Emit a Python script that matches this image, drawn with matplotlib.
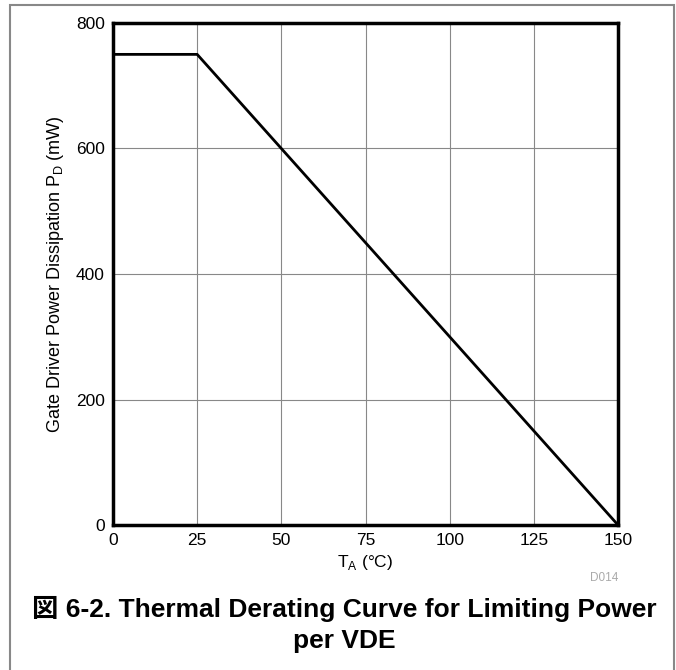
import matplotlib
matplotlib.use("Agg")
import matplotlib.pyplot as plt
from matplotlib.patches import Rectangle

# derating curve points
temp_c = [0, 25, 150]
power_mw = [750, 750, 0]
x_ticks = [0, 25, 50, 75, 100, 125, 150]
y_ticks = [0, 200, 400, 600, 800]

plt.rcParams['font.family'] = ['Liberation Sans', 'Noto Sans CJK JP', 'DejaVu Sans']

fig = plt.figure(figsize=(6.76, 6.70), dpi=100)
ax = fig.add_axes([113 / 676, 1 - 525 / 670, 505 / 676, 502 / 670])

ax.plot(temp_c, power_mw, color='black', lw=2)
ax.set_xlim(0, 150)
ax.set_ylim(0, 800)
ax.set_xticks(x_ticks)
ax.set_yticks(y_ticks)
ax.grid(True, color='#888888', lw=0.8)
ax.tick_params(length=0, labelsize=12.5, pad=6)
for s in ax.spines.values():
    s.set_linewidth(2.5)
ax.set_xlabel('T$_\\mathregular{A}$ (°C)', fontsize=12.5, labelpad=3)
ax.set_ylabel('Gate Driver Power Dissipation P$_\\mathregular{D}$ (mW)', fontsize=13, labelpad=7)

fig.text(604 / 676, 1 - 578 / 670, 'D014', color='#aaaaaa', fontsize=8.5, ha='center', va='center')
fig.text(344 / 676, 1 - 609 / 670, '図 6-2. Thermal Derating Curve for Limiting Power',
         fontsize=19, fontweight='bold', ha='center', va='center')
fig.text(344 / 676, 1 - 641 / 670, 'per VDE',
         fontsize=19, fontweight='bold', ha='center', va='center')

# outer frame
fig.patches.append(Rectangle((10 / 676, -0.05), 664 / 676, 1 - 5 / 670 + 0.05,
                             transform=fig.transFigure, fill=False,
                             edgecolor='#888888', lw=1.5))

fig.savefig('out.png', dpi=100)
